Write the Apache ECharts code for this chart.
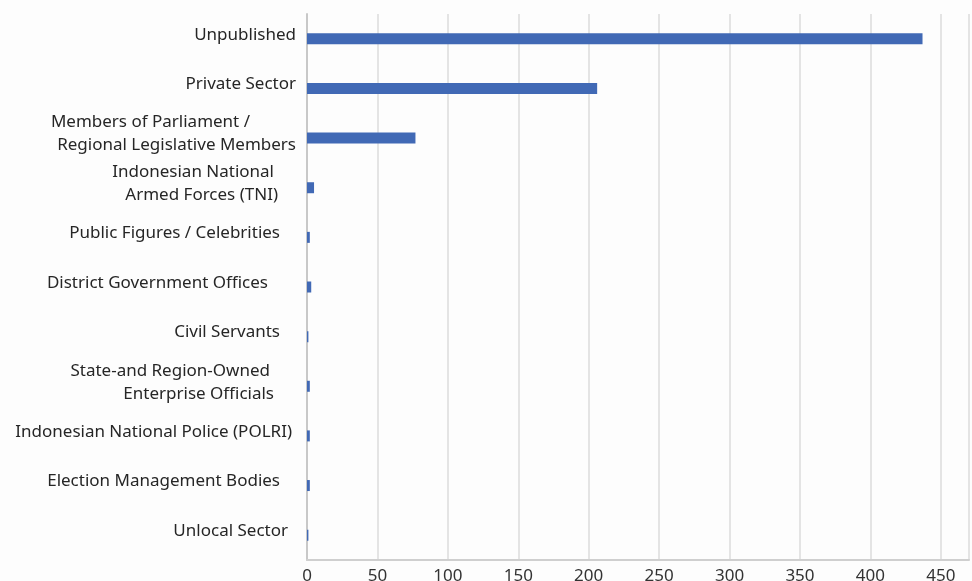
<!DOCTYPE html>
<html>
<head>
<meta charset="utf-8">
<script src="https://cdn.jsdelivr.net/npm/echarts@6/dist/echarts.min.js"></script>
<style>
  html, body { margin: 0; padding: 0; background: #fdfdfd; }
  #chart { width: 972px; height: 581px; }
</style>
</head>
<body>
<div id="chart"></div>
<script>
// categories top to bottom
var categories = [
  "Unpublished",
  "Private Sector",
  "Members of Parliament /\nRegional Legislative Members",
  "Indonesian National\nArmed Forces (TNI)",
  "Public Figures / Celebrities",
  "District Government Offices",
  "Civil Servants",
  "State-and Region-Owned\nEnterprise Officials",
  "Indonesian National Police (POLRI)",
  "Election Management Bodies",
  "Unlocal Sector"
];
var values = [437, 206, 77, 5, 2, 3, 1, 2, 2, 2, 1];
var xTicks = [0, 50, 100, 150, 200, 250, 300, 350, 400, 450];

// label lines are not all flush right in the source, indent per line (px)
var labelIndent = [[0], [0], [46, 0], [22, 18], [16], [28], [16], [26, 22], [4], [16], [8]];

var fontBase = { fontFamily: "Noto Sans", fontSize: 17, color: "#262626", lineHeight: 23 };
var rich = {};
labelIndent.forEach(function (row) {
  row.forEach(function (p) {
    rich["p" + p] = Object.assign({ padding: [0, p, 0, 0] }, fontBase);
  });
});

var myChart = echarts.init(document.getElementById("chart"));
var option = {
  backgroundColor: "#fdfdfd",
  animation: false,
  grid: {
    left: 307,
    right: 3,
    top: 14,
    bottom: 21,
    outerBoundsMode: "none"
  },
  xAxis: {
    type: "value",
    min: 0,
    max: 470,
    interval: xTicks[1] - xTicks[0],
    axisLine: { show: true, lineStyle: { color: "#cfcfcf", width: 2 } },
    axisTick: { show: false },
    splitLine: { show: true, lineStyle: { color: "#e4e4e4", width: 2 } },
    axisLabel: {
      showMaxLabel: false,
      color: "#333333",
      fontFamily: "Noto Sans",
      fontSize: 17,
      margin: 8
    }
  },
  yAxis: {
    type: "category",
    inverse: true,
    data: categories,
    axisLine: { show: true, lineStyle: { color: "#c8c8c8", width: 2 } },
    axisTick: { show: false },
    axisLabel: {
      color: "#262626",
      fontFamily: "Noto Sans",
      fontSize: 17,
      lineHeight: 23,
      margin: 11,
      padding: [0, 0, 8, 0],
      formatter: function (val, idx) {
        var ind = labelIndent[idx];
        return val.split("\n").map(function (line, i) {
          return "{p" + ind[i] + "|" + line + "}";
        }).join("\n");
      },
      rich: rich
    }
  },
  series: [
    {
      type: "bar",
      data: values,
      barWidth: 11,
      itemStyle: { color: "#4169b5" }
    }
  ]
};
myChart.setOption(option);
window.addEventListener("resize", function () { myChart.resize(); });
</script>
</body>
</html>
